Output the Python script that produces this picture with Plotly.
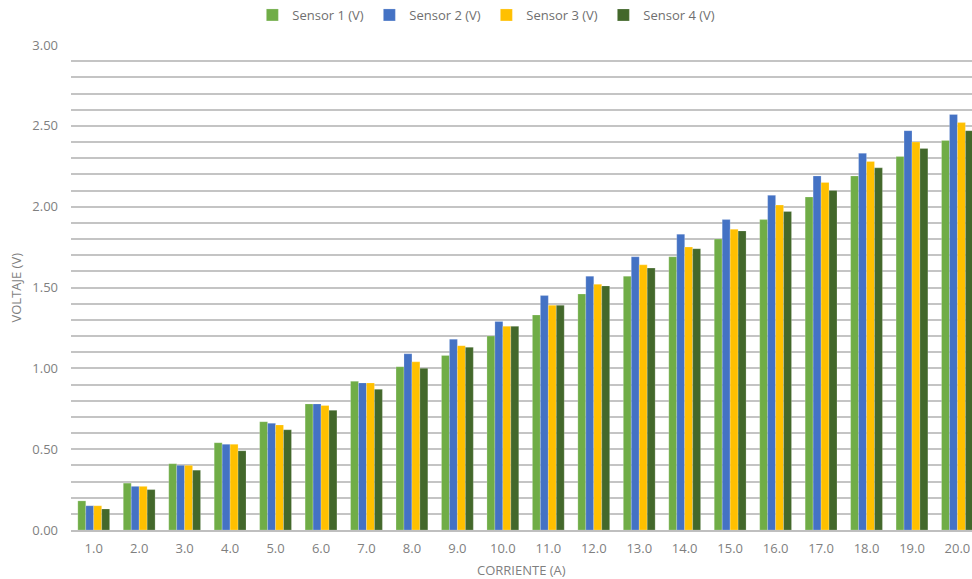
import plotly.graph_objects as go

categories = ["1.0", "2.0", "3.0", "4.0", "5.0", "6.0", "7.0", "8.0", "9.0", "10.0",
              "11.0", "12.0", "13.0", "14.0", "15.0", "16.0", "17.0", "18.0", "19.0", "20.0"]

sensor1 = [0.18, 0.29, 0.41, 0.54, 0.67, 0.78, 0.92, 1.01, 1.08, 1.20,
           1.33, 1.46, 1.57, 1.69, 1.80, 1.92, 2.06, 2.19, 2.31, 2.41]
sensor2 = [0.15, 0.27, 0.40, 0.53, 0.66, 0.78, 0.91, 1.09, 1.18, 1.29,
           1.45, 1.57, 1.69, 1.83, 1.92, 2.07, 2.19, 2.33, 2.47, 2.57]
sensor3 = [0.15, 0.27, 0.40, 0.53, 0.65, 0.77, 0.91, 1.04, 1.14, 1.26,
           1.39, 1.52, 1.64, 1.75, 1.86, 2.01, 2.15, 2.28, 2.40, 2.52]
sensor4 = [0.13, 0.25, 0.37, 0.49, 0.62, 0.74, 0.87, 1.00, 1.13, 1.26,
           1.39, 1.51, 1.62, 1.74, 1.85, 1.97, 2.10, 2.24, 2.36, 2.47]

series_names = ["Sensor 1 (V)", "Sensor 2 (V)", "Sensor 3 (V)", "Sensor 4 (V)"]
series_values = [sensor1, sensor2, sensor3, sensor4]
colors = ["#70AD47", "#4472C4", "#FFC000", "#43682B"]

y_ticks = [0.0, 0.5, 1.0, 1.5, 2.0, 2.5, 3.0]

fig = go.Figure()
for name, vals, col in zip(series_names, series_values, colors):
    fig.add_trace(go.Bar(
        x=categories, y=vals, name=name,
        marker=dict(color=col, line=dict(width=0.6, color="rgba(255,255,255,0.35)")),
    ))

font_family = "Open Sans"
grey = "#7F7F7F"

fig.update_layout(
    width=972, height=579,
    margin=dict(l=71, r=0, t=45, b=49),
    paper_bgcolor="white", plot_bgcolor="white",
    barmode="group", bargap=0.3, bargroupgap=0.0,
    font=dict(family=font_family, size=13, color=grey),
    legend=dict(orientation="h", x=0.461, xanchor="center", y=1.062, yanchor="middle",
                font=dict(size=13, color="#6F6F6F"),
                itemwidth=30, traceorder="normal",
                entrywidth=72, entrywidthmode="pixels"),
    xaxis=dict(
        type="category", range=[-0.5, 19.32], automargin=False,
        showgrid=False, showline=True, linecolor="#BFBFBF", linewidth=1.5,
        ticks="", tickfont=dict(size=13, color=grey), ticklabelstandoff=6,
    ),
    yaxis=dict(
        range=[0, 3.0], tickvals=y_ticks, tickformat=".2f", automargin=False,
        showgrid=True, gridcolor="#C4C4C4", gridwidth=1.8,
        minor=dict(dtick=0.1, showgrid=True, gridcolor="#C4C4C4", gridwidth=1.8),
        zeroline=False, showline=False, ticks="",
        tickfont=dict(size=13, color=grey), ticklabelstandoff=12,
    ),
    annotations=[
        dict(text="CORRIENTE (A)", xref="paper", yref="paper", x=0.5, y=-0.083,
             xanchor="center", yanchor="middle", showarrow=False,
             font=dict(size=13, color=grey)),
        dict(text="VOLTAJE (V)", xref="paper", x=-(71 - 15) / 901, xanchor="center",
             yref="paper", y=0.5, yanchor="middle", showarrow=False, textangle=-90,
             font=dict(size=13, color=grey)),
    ],
)

fig.write_html("out.html", config={"displayModeBar": False},
               post_script="document.body.style.margin='0';document.body.style.padding='0';")
